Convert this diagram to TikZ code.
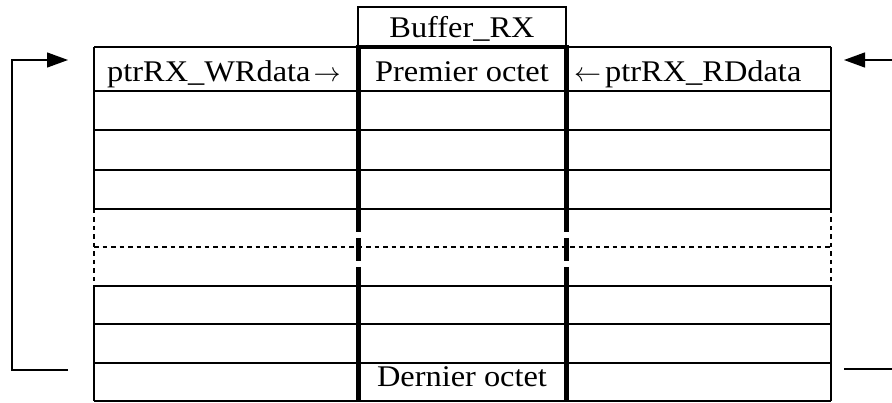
\documentclass[tikz,border=0pt]{standalone}
\usepackage{fix-cm}
\usepackage{fontspec}
\setmainfont{Liberation Serif}
\newfontfamily\tnr[FakeStretch=1.08]{Liberation Serif}
\usetikzlibrary{arrows.meta}
\newcommand{\arrsize}{\fontsize{27}{30}\selectfont}
\begin{document}
\begin{tikzpicture}[x=1pt,y=-1pt,
  thinline/.style={line width=1.3pt},
  thickcol/.style={line width=5pt},
  dashline/.style={line width=1.3pt, dash pattern=on 4.5pt off 4pt},
  txt/.style={font=\tnr\fontsize{30}{33}\selectfont, inner sep=0pt, anchor=base},
  ptr/.style={line width=1.3pt},
  tipend/.style={-{Triangle[length=21pt,width=15pt]}}
]
\useasboundingbox (0,0) rectangle (892,403);
% buffer header box
\draw[thinline] (358,7) rectangle (566,47);
\node[txt] (buf) at (462,38) {Buffer\_RX};
% horizontal lines
\draw[thinline] (94,47) -- (831,47);
\foreach \yy in {91,130,170,209,286,324,363,401}
  \draw[thinline] (94,\yy) -- (831,\yy);
\draw[dashline] (94,247) -- (831,247);
% outer verticals
\foreach \xx in {94,831}{
  \draw[thinline] (\xx,47) -- (\xx,209);
  \draw[dashline] (\xx,209) -- (\xx,286);
  \draw[thinline] (\xx,286) -- (\xx,401);
}
% thick middle column
\draw[line width=4pt] (355.5,47) -- (568.5,47);
\foreach \xx in {358,566}{
  \draw[thickcol] (\xx,47) -- (\xx,232);
  \draw[thickcol] (\xx,238) -- (\xx,261);
  \draw[thickcol] (\xx,267) -- (\xx,401.6);
}
% texts
\node[txt, anchor=base west] (wr) at (107,82) {ptrRX\_WRdata\kern3pt{\arrsize$\rightarrow$}};
\node[txt] (first) at (462,82) {Premier octet};
\node[txt, anchor=base west] (rd) at (574,82) {{\arrsize$\leftarrow$}\kern4pt ptrRX\_RDdata};
\node[txt] (last) at (462,387) {Dernier octet};
% pointer arrows
\coordinate (la1) at (68,370);
\coordinate (la2) at (12,370);
\coordinate (la3) at (12,60);
\coordinate (la4) at (68,60);
\draw[ptr, tipend] (la1) -- (la2) -- (la3) -- (la4);
\coordinate (ra0) at (893,60);
\coordinate (ra1) at (844,60);
\draw[ptr, tipend] (ra0) -- (ra1);
\coordinate (rb0) at (844,369);
\coordinate (rb1) at (893,369);
\draw[ptr] (rb0) -- (rb1);
\end{tikzpicture}
\end{document}
